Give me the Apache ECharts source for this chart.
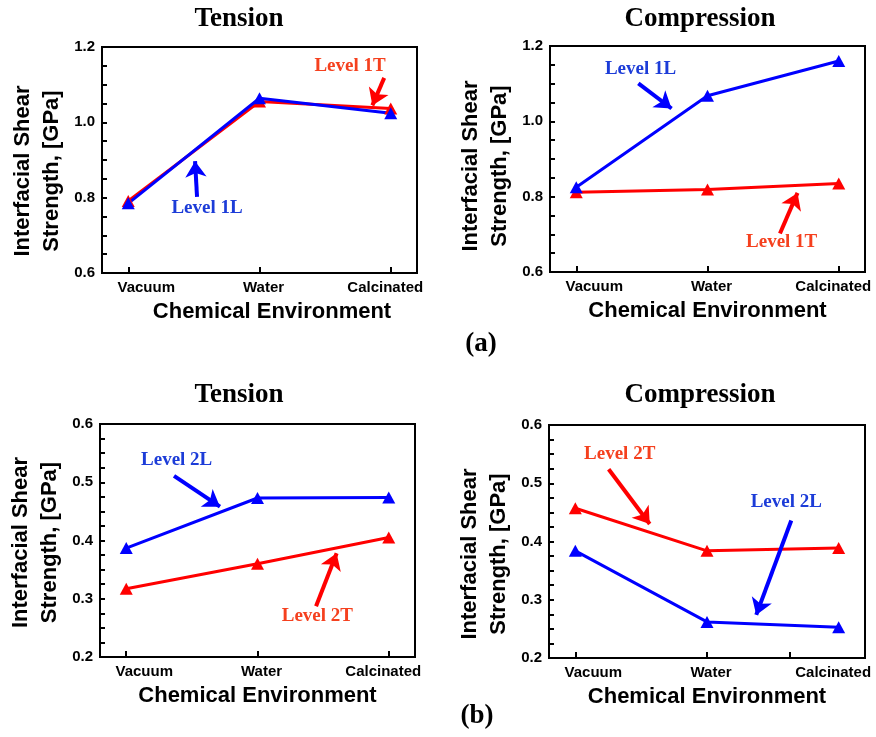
<!DOCTYPE html>
<html>
<head>
<meta charset="utf-8">
<script src="https://cdn.jsdelivr.net/npm/echarts@6/dist/echarts.min.js"></script>
<style>
  body { margin: 0; background: #fff; }
  #chart { width: 876px; height: 737px; }
</style>
</head>
<body>
<div id="chart"></div>
<script>
// x categories, drawn at 1, 2, 3 on a value axis
var environments = ['Vacuum', 'Water', 'Calcinated'];

// (a) level 1 fibres
var tension1T = [0.791, 1.055, 1.037];
var tension1L = [0.785, 1.064, 1.024];
var compression1T = [0.812, 0.819, 0.835];
var compression1L = [0.825, 1.068, 1.160];

// (b) level 2 fibres
var tension2T = [0.317, 0.360, 0.405];
var tension2L = [0.387, 0.473, 0.474];
var compression2T = [0.457, 0.384, 0.389];
var compression2L = [0.384, 0.262, 0.253];

// callouts, in data units: label centre, arrow start, arrow tip
var notes = [
  { red:  { text: 'Level 1T', at: [2.69, 1.150], from: [2.95, 1.118], to: [2.86, 1.045] },
    blue: { text: 'Level 1L', at: [1.60, 0.773], from: [1.524, 0.802], to: [1.509, 0.897] } },
  { red:  { text: 'Level 1T', at: [2.565, 0.680], from: [2.552, 0.702], to: [2.686, 0.810] },
    blue: { text: 'Level 1L', at: [1.49, 1.138], from: [1.473, 1.101], to: [1.726, 1.034] } },
  { red:  { text: 'Level 2T', at: [2.456, 0.270], from: [2.446, 0.287], to: [2.603, 0.378] },
    blue: { text: 'Level 2L', at: [1.384, 0.5375], from: [1.364, 0.511], to: [1.714, 0.458] } },
  { red:  { text: 'Level 2T', at: [1.337, 0.550], from: [1.253, 0.524], to: [1.565, 0.430] },
    blue: { text: 'Level 2L', at: [2.602, 0.467], from: [2.64, 0.436], to: [2.374, 0.274] } }
];

var SANS = '"Liberation Sans", Arial, sans-serif';
var SERIF = '"Liberation Serif", "Times New Roman", serif';

var panels = [
  { title: 'Tension', titleAt: [239, 19], grid: { left: 102, top: 47, width: 315, height: 226 },
    y: [0.6, 1.2, 0.2], red: tension1T, blue: tension1L, xTicks: [1, 2, 3], xShift: 25, yShift: 22 },
  { title: 'Compression', titleAt: [700, 19], grid: { left: 550, top: 46, width: 315, height: 226 },
    y: [0.6, 1.2, 0.2], red: compression1T, blue: compression1L, xTicks: [1, 2, 3], xShift: 0, yShift: 14 },
  { title: 'Tension', titleAt: [239, 395], grid: { left: 100, top: 424, width: 315, height: 233 },
    y: [0.2, 0.6, 0.1], red: tension2T, blue: tension2L, xTicks: [1, 2, 3], xShift: 0, yShift: 4 },
  { title: 'Compression', titleAt: [700, 395], grid: { left: 549, top: 425, width: 316, height: 233 },
    y: [0.2, 0.6, 0.1], red: compression2T, blue: compression2L, xTicks: [1, 2, 2.63], xShift: 0, yShift: 25 }
];

var black = { color: '#000', width: 2 };

function labelText(v) {
  var k = Math.round(v) - 1;
  return '{c' + k + '|' + environments[k] + '}';
}
var tickFont = { fontFamily: SANS, fontWeight: 'bold', fontSize: 15, color: '#000' };

function lineSeries(i, values, color, textColor, note) {
  return {
    type: 'line',
    xAxisIndex: i,
    yAxisIndex: i,
    data: values.map(function (v, k) { return [k + 1, v]; }),
    symbol: 'triangle',
    symbolSize: [13, 12],
    lineStyle: { color: color, width: 3 },
    itemStyle: { color: color },
    markLine: {
      silent: true,
      symbol: ['none', 'arrow'],
      symbolSize: 16,
      label: { show: false },
      lineStyle: { color: color, width: 4, type: 'solid' },
      data: [[{ coord: note.from }, { coord: note.to }]]
    },
    markPoint: {
      silent: true,
      symbol: 'circle',
      symbolSize: 1,
      itemStyle: { color: 'rgba(0,0,0,0)' },
      label: {
        show: true, position: 'inside', formatter: note.text,
        color: textColor, fontFamily: SERIF, fontWeight: 'bold', fontSize: 19
      },
      data: [{ coord: note.at }]
    }
  };
}

var grids = [], xAxes = [], yAxes = [], series = [], graphics = [];
panels.forEach(function (p, i) {
  grids.push(Object.assign({ show: true, borderColor: '#000', borderWidth: 2 }, p.grid));
  xAxes.push({
    gridIndex: i, type: 'value', min: 0.8, max: 3.2,
    axisLine: { lineStyle: black },
    splitLine: { show: false },
    axisTick: { inside: true, length: 6, customValues: p.xTicks, lineStyle: black },
    axisLabel: {
      customValues: [1, 2, 3], margin: 7, formatter: labelText,
      rich: {
        c0: Object.assign({ padding: [0, 0, 0, 36] }, tickFont),
        c1: Object.assign({ padding: [0, 0, 0, 8] }, tickFont),
        c2: Object.assign({ padding: [0, 11, 0, 0] }, tickFont)
      }
    },
    name: 'Chemical Environment', nameLocation: 'middle', nameGap: 28,
    nameTextStyle: { fontFamily: SANS, fontWeight: 'bold', fontSize: 22, color: '#000',
      padding: [0, 0, 0, p.xShift] }
  });
  yAxes.push({
    gridIndex: i, type: 'value', min: p.y[0], max: p.y[1], interval: p.y[2],
    axisLine: { show: true, lineStyle: black },
    splitLine: { show: false },
    axisTick: { inside: true, length: 5, lineStyle: black },
    minorTick: { show: true, splitNumber: 4, length: 5, lineStyle: black },
    axisLabel: { margin: 7, formatter: function (v) { return v.toFixed(1); },
      fontFamily: SANS, fontWeight: 'bold', fontSize: 15, color: '#000' },
    name: 'Interfacial Shear\nStrength, [GPa]', nameLocation: 'middle', nameGap: 36,
    nameTextStyle: { fontFamily: SANS, fontWeight: 'bold', fontSize: 22, lineHeight: 29,
      color: '#000', padding: [0, p.yShift, 0, 0] }
  });
  series.push(lineSeries(i, p.red, '#ff0000', '#f5401e', notes[i].red));
  series.push(lineSeries(i, p.blue, '#0000ff', '#1c3cd8', notes[i].blue));
  graphics.push({
    type: 'text', x: p.titleAt[0], y: p.titleAt[1],
    style: { text: p.title, font: 'bold 27px ' + SERIF, fill: '#000', align: 'center', verticalAlign: 'middle' }
  });
});

graphics.push({ type: 'text', x: 481, y: 344,
  style: { text: '(a)', font: 'bold 27px ' + SERIF, fill: '#000', align: 'center', verticalAlign: 'middle' } });
graphics.push({ type: 'text', x: 477, y: 716,
  style: { text: '(b)', font: 'bold 27px ' + SERIF, fill: '#000', align: 'center', verticalAlign: 'middle' } });

var chart = echarts.init(document.getElementById('chart'));
chart.setOption({
  animation: false,
  backgroundColor: '#fff',
  grid: grids,
  xAxis: xAxes,
  yAxis: yAxes,
  series: series,
  graphic: graphics
});
</script>
</body>
</html>
